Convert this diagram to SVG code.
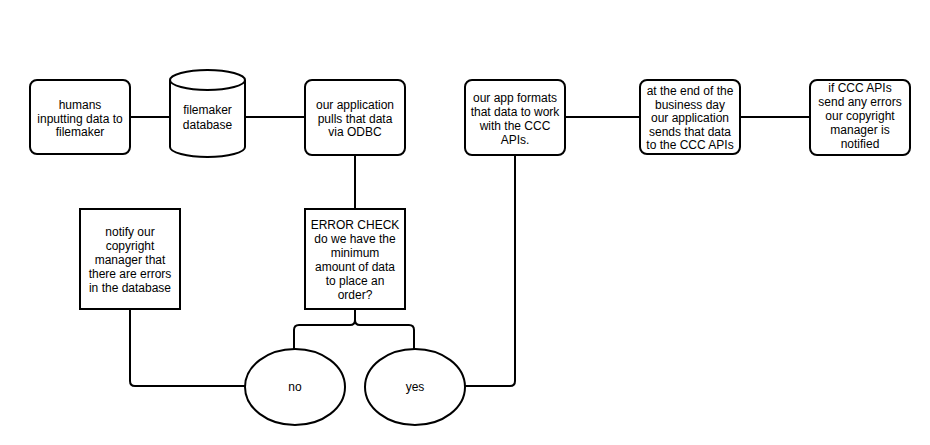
<svg xmlns="http://www.w3.org/2000/svg" width="930" height="445" viewBox="0 0 930 445">
<style>
.s{fill:#fff;stroke:#000;stroke-width:2}
.c{fill:none;stroke:#000;stroke-width:2}
text{font-family:"Liberation Sans",Arial,sans-serif;font-size:12px;fill:#000;text-anchor:middle}
</style>
<rect width="930" height="445" fill="#fff"/>
<g id="connectors">
<path class="c" d="M130,117 H170"/>
<path class="c" d="M245,117 H305"/>
<path class="c" d="M355,155 V209"/>
<path class="c" d="M355,309 V320 Q355,325 350,325 H299 Q294,325 294,330 V349"/>
<path class="c" d="M355,320 Q355,325 360,325 H409 Q414,325 414,330 V349"/>
<path class="c" d="M130,309 V381 Q130,386 135,386 H245"/>
<path class="c" d="M465,386 H510 Q515,386 515,381 V155"/>
<path class="c" d="M565,117 H640"/>
<path class="c" d="M740,117 H810"/>
</g>
<g id="humans">
<rect class="s" x="30" y="80" width="100" height="74" rx="7"/>
<text x="80" y="109">humans<tspan x="80" dy="13.5">inputting data to</tspan><tspan x="80" dy="13.5">filemaker</tspan></text>
</g>
<g id="filemaker-db">
<path class="s" d="M170,80 A37.5,10 0 0 1 245,80 V147 A37.5,10 0 0 1 170,147 Z"/>
<path class="c" d="M170,80 A37.5,10 0 0 0 245,80"/>
<text x="207.5" y="114">filemaker<tspan x="207.5" dy="14.5">database</tspan></text>
</g>
<g id="app-pulls">
<rect class="s" x="305" y="80" width="100" height="75" rx="7"/>
<text x="355" y="109">our application<tspan x="355" dy="13.5">pulls that data</tspan><tspan x="355" dy="13.5">via ODBC</tspan></text>
</g>
<g id="error-check">
<rect class="s" x="305" y="209" width="100" height="100"/>
<text x="355" y="229">ERROR CHECK<tspan x="355" dy="14">do we have the</tspan><tspan x="355" dy="14">minimum</tspan><tspan x="355" dy="14">amount of data</tspan><tspan x="355" dy="14">to place an</tspan><tspan x="355" dy="14">order?</tspan></text>
</g>
<g id="notify">
<rect class="s" x="80" y="209" width="100" height="100"/>
<text x="130" y="236">notify our<tspan x="130" dy="14">copyright</tspan><tspan x="130" dy="14">manager that</tspan><tspan x="130" dy="14">there are errors</tspan><tspan x="130" dy="14">in the database</tspan></text>
</g>
<g id="no">
<ellipse class="s" cx="295" cy="387" rx="50" ry="38"/>
<text x="295" y="391">no</text>
</g>
<g id="yes">
<ellipse class="s" cx="415" cy="387" rx="50" ry="38"/>
<text x="415" y="391">yes</text>
</g>
<g id="app-formats">
<rect class="s" x="465" y="80" width="100" height="75" rx="7"/>
<text x="515" y="102">our app formats<tspan x="515" dy="14">that data to work</tspan><tspan x="515" dy="14">with the CCC</tspan><tspan x="515" dy="14">APIs.</tspan></text>
</g>
<g id="end-of-day">
<rect class="s" x="640" y="80" width="100" height="74" rx="7"/>
<text x="690" y="95">at the end of the<tspan x="690" dy="13.5">business day</tspan><tspan x="690" dy="13.5">our application</tspan><tspan x="690" dy="13.5">sends that data</tspan><tspan x="690" dy="13.5">to the CCC APIs</tspan></text>
</g>
<g id="ccc-errors">
<rect class="s" x="810" y="80" width="100" height="75" rx="7"/>
<text x="860" y="92">if CCC APIs<tspan x="860" dy="14">send any errors</tspan><tspan x="860" dy="14">our copyright</tspan><tspan x="860" dy="14">manager is</tspan><tspan x="860" dy="14">notified</tspan></text>
</g>
</svg>
